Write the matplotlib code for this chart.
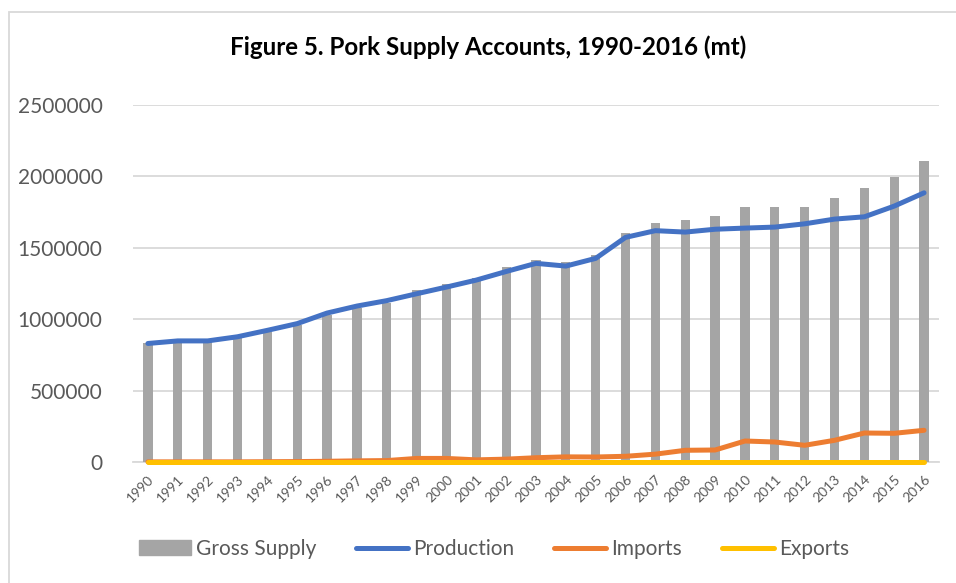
import matplotlib
matplotlib.use("Agg")
import matplotlib.pyplot as plt
import matplotlib.patches as mpatches
import numpy as np

# Pork supply accounts, 1990-2016 (metric tonnes)
years = [str(y) for y in range(1990, 2017)]
gross_supply = [831000, 842000, 842000, 866000, 912000, 959000, 1029000, 1076000, 1115000,
                1204000, 1246000, 1286000, 1363000, 1414000, 1400000, 1449000, 1601000,
                1675000, 1694000, 1720000, 1787000, 1785000, 1785000, 1850000, 1920000,
                1997000, 2107000]
production = [830000, 848000, 848000, 877000, 922000, 969000, 1043000, 1092000, 1130000,
              1178000, 1225000, 1274000, 1334000, 1391000, 1372000, 1426000, 1573000,
              1620000, 1610000, 1630000, 1638000, 1645000, 1668000, 1701000, 1717000,
              1792000, 1885000]
imports = [1000, 1000, 1000, 1000, 2000, 3000, 5000, 8000, 10000, 25000, 25000, 15000,
           20000, 30000, 36000, 35000, 40000, 55000, 82000, 84000, 147000, 140000, 117000,
           152000, 203000, 201000, 222000]
exports = [0] * len(years)

GRAY = "#A5A5A5"
BLUE = "#4472C4"
ORANGE = "#ED7D31"
YELLOW = "#FFC000"
TEXT = "#595959"
GRID = "#D9D9D9"
FONT = "Lato"

W, H = 956, 583
fig = plt.figure(figsize=(W / 100, H / 100), dpi=100)
ax = fig.add_axes([133 / W, 121 / H, 806 / W, 357 / H])

x = np.arange(len(years))
ax.bar(x, gross_supply, width=0.31, color=GRAY, label="Gross Supply", zorder=2)
ax.plot(x, production, color=BLUE, lw=3.6, solid_capstyle="round", label="Production", zorder=3)
ax.plot(x, imports, color=ORANGE, lw=3.6, solid_capstyle="round", label="Imports", zorder=4,
        clip_on=False)
ax.plot(x, exports, color=YELLOW, lw=3.6, solid_capstyle="round", label="Exports", zorder=5,
        clip_on=False)

ax.set_xlim(-0.5, len(years) - 0.5)
ax.set_ylim(0, 2500000)
ax.set_yticks(np.arange(0, 2500001, 500000))
ax.set_yticklabels([f"{v}" for v in range(0, 2500001, 500000)], fontsize=15,
                   color=TEXT, family=FONT)
ax.set_xticks(x)
ax.set_xticklabels(years, rotation=45, ha="right", rotation_mode="anchor",
                   fontsize=10, color=TEXT, family=FONT)
ax.tick_params(axis="y", length=0, pad=22)
ax.tick_params(axis="x", length=0, pad=8)
ax.grid(axis="y", color=GRID, lw=1.3, zorder=0)
ax.set_axisbelow(True)
for side in ["top", "right", "left"]:
    ax.spines[side].set_visible(False)
ax.spines["bottom"].set_color(GRID)
ax.spines["bottom"].set_linewidth(1.3)
ax.spines["bottom"].set_zorder(1)

fig.text(488 / W, 1 - 47 / H, "Figure 5. Pork Supply Accounts, 1990-2016 (mt)",
         ha="center", va="center", fontsize=17.4, fontweight="bold", family=FONT)

handles = [mpatches.Patch(color=GRAY, label="Gross Supply")] + ax.get_lines()
leg = fig.legend(handles=handles, labels=["Gross Supply", "Production", "Imports", "Exports"],
                 loc="center", bbox_to_anchor=(494 / W, 1 - 549 / H), ncol=4, frameon=False,
                 handlelength=2.5, handleheight=0.7, handletextpad=0.25, columnspacing=1.9,
                 prop={"family": FONT, "size": 15})
for t in leg.get_texts():
    t.set_color(TEXT)

# outer chart frame
fig.add_artist(mpatches.Rectangle((9 / W, -0.05), 1.1, 1 - 12 / H + 0.05,
                                  transform=fig.transFigure, fill=False,
                                  edgecolor=GRID, lw=1.3))

fig.savefig("out.png", dpi=100)
